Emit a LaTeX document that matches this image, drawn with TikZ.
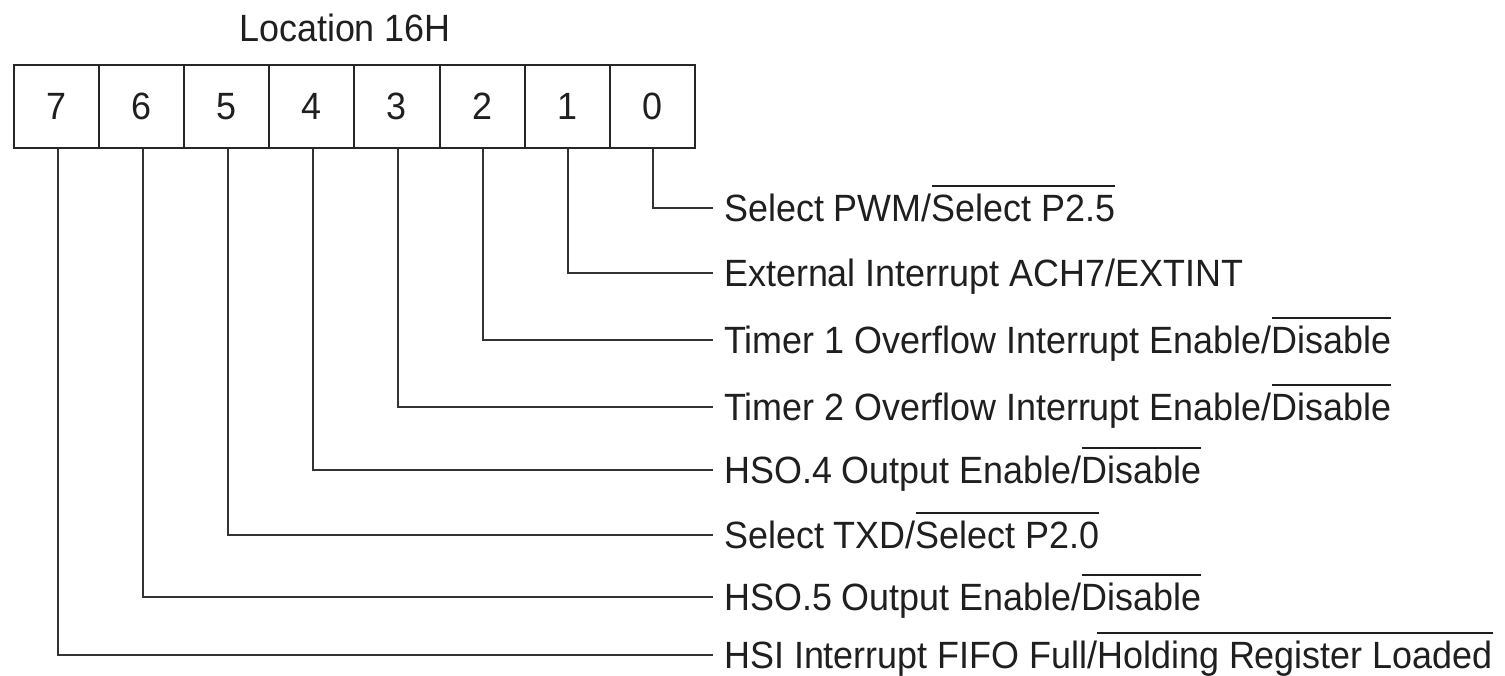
\documentclass[tikz,border=0pt]{standalone}
\usepackage{fontspec}
\setmainfont{Liberation Sans}[FakeStretch=0.945]
\newcommand\ovl[1]{\setbox0\hbox{#1}\rlap{\rule[\dimexpr\ht0+7pt\relax]{\wd0}{2pt}}\box0}
\begin{document}
\begin{tikzpicture}[x=1pt,y=-1pt,
  every node/.style={font=\fontsize{38}{44}\selectfont, text=black!88},
  cell/.style={draw=black!85, line width=2pt, minimum width=85.1pt, minimum height=83pt, inner sep=0pt},
  lbl/.style={anchor=west, inner xsep=11pt, inner ysep=0pt, text height=27pt, text depth=0pt},
  conn/.style={draw=black!80, line width=2pt}]
\useasboundingbox (0,0) rectangle (1505,676);
\node[inner sep=0pt] (title) at (345,28) {Location 16H};
\foreach \b in {7,6,5,4,3,2,1,0}{
  \node[cell] (c\b) at ({14+85.1*(7-\b)+42.55},106.5) {\b};
}
\node[lbl] (t0) at (713,208) {Select PWM/\ovl{Select P2.5}};
\node[lbl] (t1) at (713,273) {External Interrupt ACH7/EXTINT};
\node[lbl] (t2) at (713,340) {Timer 1 Overflow Interrupt Enable/\ovl{Disable}};
\node[lbl] (t3) at (713,407) {Timer 2 Overflow Interrupt Enable/\ovl{Disable}};
\node[lbl] (t4) at (713,470) {HSO.4 Output Enable/\ovl{Disable}};
\node[lbl] (t5) at (713,535) {Select TXD/\ovl{Select P2.0}};
\node[lbl] (t6) at (713,597) {HSO.5 Output Enable/\ovl{Disable}};
\node[lbl] (t7) at (713,655) {HSI Interrupt FIFO Full/\ovl{Holding Register Loaded}};
\foreach \b in {7,6,5,4,3,2,1,0}{
  \draw[conn] ([xshift=1pt]c\b.south) |- (t\b.west);
}
\end{tikzpicture}
\end{document}
